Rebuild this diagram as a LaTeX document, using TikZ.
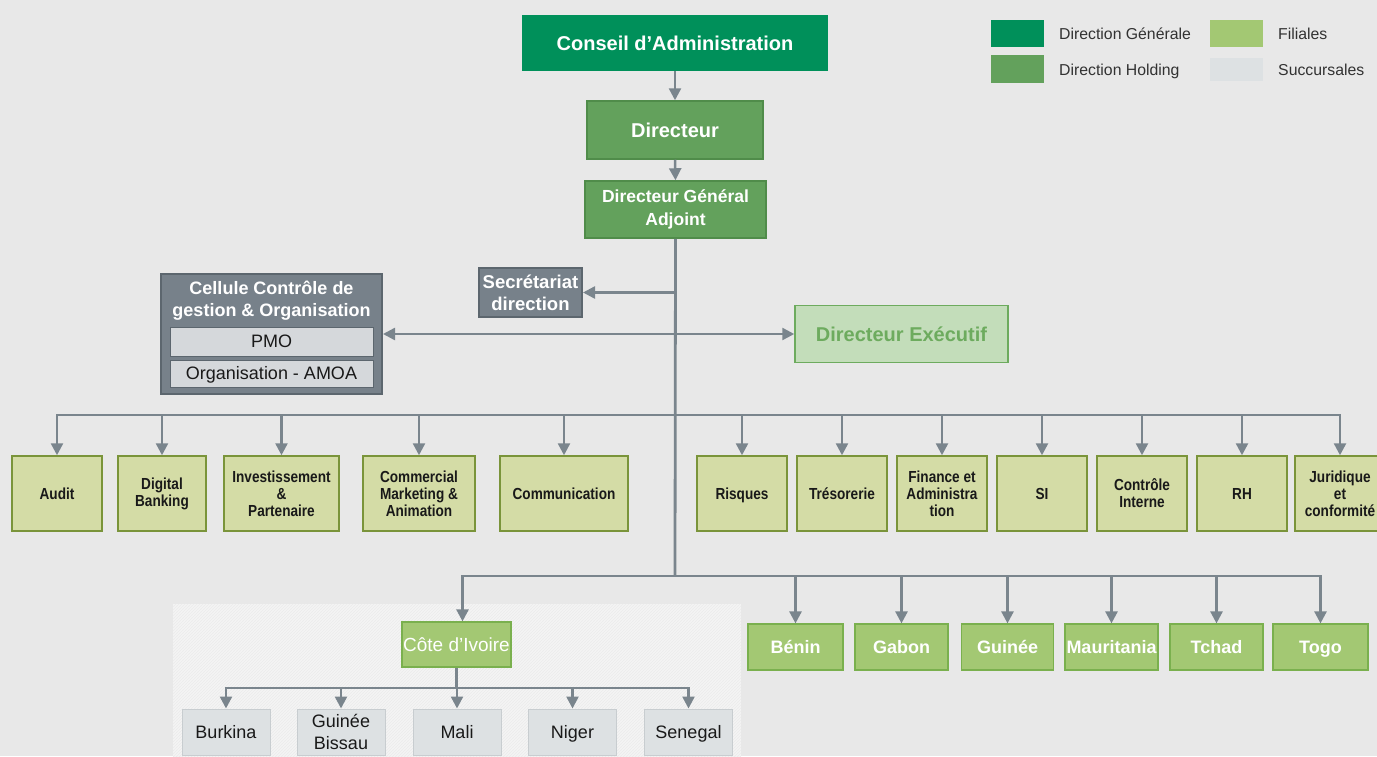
\documentclass[tikz,border=0pt]{standalone}
\usepackage{fontspec}
\setmainfont{Liberation Sans}
\newfontfamily\narrowfont{Liberation Sans}[FakeStretch=0.85]
\usetikzlibrary{arrows.meta,patterns}
\definecolor{bgcol}{RGB}{232,232,232}
\definecolor{dgcol}{RGB}{0,144,90}
\definecolor{dhcol}{RGB}{99,161,92}
\definecolor{dhdraw}{RGB}{80,140,74}
\definecolor{filfill}{RGB}{163,200,115}
\definecolor{fildraw}{RGB}{122,176,78}
\definecolor{succfill}{RGB}{221,225,227}
\definecolor{succdraw}{RGB}{200,205,208}
\definecolor{deptfill}{RGB}{212,220,166}
\definecolor{deptdraw}{RGB}{122,148,58}
\definecolor{grayfill}{RGB}{119,129,138}
\definecolor{graydraw}{RGB}{92,102,110}
\definecolor{innerfill}{RGB}{213,216,219}
\definecolor{defill}{RGB}{195,221,186}
\definecolor{dedraw}{RGB}{109,171,94}
\definecolor{conncol}{RGB}{122,133,141}
\definecolor{txtcol}{RGB}{25,25,25}
\definecolor{legtxt}{RGB}{50,50,50}
\definecolor{hatchfill}{RGB}{244,244,244}
\begin{document}
\begin{tikzpicture}[x=1pt,y=-1pt,
  base/.style={rectangle, inner sep=0pt, align=center, anchor=center},
  conn/.style={draw=conncol, line width=2.5pt},
  arr/.style={conn, -{Triangle[length=12pt,width=12pt]}},
  darr/.style={conn, {Triangle[length=12pt,width=12pt]}-{Triangle[length=12pt,width=12pt]}},
  one/.style={text height=#1, text depth=0pt},
  topbox/.style={base, fill=dgcol, text=white, font=\bfseries\fontsize{20}{24}\selectfont},
  holdbox/.style={base, fill=dhcol, draw=dhdraw, line width=1.5pt, text=white, font=\bfseries\fontsize{20}{23}\selectfont},
  graybox/.style={base, fill=grayfill, draw=graydraw, line width=2pt, text=white, font=\bfseries\fontsize{18.5}{22}\selectfont},
  innerbox/.style={base, fill=innerfill, draw=graydraw, line width=1pt, minimum width=203pt, text=txtcol, font=\fontsize{18}{20}\selectfont, one=12.9pt},
  debox/.style={base, fill=defill, draw=dedraw, line width=1.5pt, text=dedraw, font=\bfseries\fontsize{20}{22}\selectfont, one=14.3pt},
  dept/.style={base, fill=deptfill, draw=deptdraw, line width=1.5pt, minimum height=75pt, text=txtcol, font=\narrowfont\bfseries\fontsize{16}{17}\selectfont},
  fil/.style={base, fill=filfill, draw=fildraw, line width=1.2pt, minimum height=46pt, text=white, font=\bfseries\fontsize{18}{20}\selectfont, one=12.9pt},
  succ/.style={base, fill=succfill, draw=succdraw, line width=1pt, minimum width=88pt, minimum height=46pt, text=txtcol, font=\fontsize{18}{22}\selectfont},
  legbox/.style={base, minimum width=53pt, minimum height=27pt},
  legtext/.style={anchor=west, inner sep=0pt, text=legtxt, font=\fontsize{15.8}{18}\selectfont, one=11.3pt}
]
\useasboundingbox (0,0) rectangle (1377,756);
\clip (0,0) rectangle (1377,756);
\fill[bgcol] (0,0) rectangle (1377,756);

% hatched succursales area
\fill[hatchfill] (173,604) rectangle (741,760);
\fill[pattern=north east lines, pattern color=black!8] (173,604) rectangle (741,760);

% legend
\node[legbox, fill=dgcol] (lg1) at (1017.5,33.5) {};
\node[legtext] (lg1t) at (1059,33.5) {Direction Générale};
\node[legbox, fill=dhcol, minimum height=28pt] (lg2) at (1017.5,69) {};
\node[legtext] (lg2t) at (1059,69.5) {Direction Holding};
\node[legbox, fill=filfill] (lg3) at (1236.5,33.5) {};
\node[legtext] (lg3t) at (1278,33.5) {Filiales};
\node[legbox, fill=succfill, minimum height=23pt] (lg4) at (1236.5,69.5) {};
\node[legtext] (lg4t) at (1278,69.5) {Succursales};

% top chain
\node[topbox, minimum width=306pt, minimum height=56pt] (ca) at (675,43) {Conseil d’Administration};
\node[holdbox, minimum width=176pt, minimum height=58pt, one=14.3pt] (dir) at (675,130) {Directeur};
\node[holdbox, minimum width=181pt, minimum height=57pt, font=\bfseries\fontsize{17.5}{23}\selectfont] (dga) at (675.5,209.5) {Directeur Général\\Adjoint};

\draw[arr] (ca.south) -- (dir.north);
\draw[arr] (dir.south) -- (dga.north);

% side boxes
\node[graybox, minimum width=103pt, minimum height=49pt] (sec) at (530.5,292.5) {Secrétariat\\direction};
\node[graybox, minimum width=221pt, minimum height=120pt] (cell) at (271.5,334) {};
\node[base, text=white, font=\bfseries\fontsize{18}{22}\selectfont] (celltitle) at (271.5,301) {Cellule Contrôle de\\gestion \& Organisation};
\node[innerbox, minimum height=29pt] (pmo) at (271.5,341.5) {PMO};
\node[innerbox, minimum height=27pt] (amoa) at (271.5,373.5) {Organisation - AMOA};
\node[debox, minimum width=213pt, minimum height=57pt] (de) at (901.5,334) {Directeur Exécutif};

% trunk and junction points
\coordinate (jsec) at (675,292.5);
\coordinate (jdept) at (675,415);
\coordinate (jfil) at (675,576);
\draw[conn, line width=2.8pt] (dga.south) -- (jfil);
\draw[arr] (jsec) -- (sec.east);
\draw[darr] (cell.east) -- (de.west);

% departments
\node[dept, minimum width=90pt, one=11.4pt] (audit) at (57,493.5) {Audit};
\node[dept, minimum width=88pt] (digital) at (162,493.5) {Digital\\Banking};
\node[dept, minimum width=115pt] (invest) at (281.5,493.5) {Investissement\\\&\\Partenaire};
\node[dept, minimum width=112pt] (commercial) at (419,493.5) {Commercial\\Marketing \&\\Animation};
\node[dept, minimum width=128pt, one=11.4pt] (comm) at (564,493.5) {Communication};
\node[dept, minimum width=90pt, one=11.4pt] (risques) at (742,493.5) {Risques};
\node[dept, minimum width=90pt, one=11.4pt] (treso) at (842,493.5) {Trésorerie};
\node[dept, minimum width=90pt] (finance) at (942,493.5) {Finance et\\Administra\\tion};
\node[dept, minimum width=90pt, one=11.4pt] (si) at (1042,493.5) {SI};
\node[dept, minimum width=90pt] (ctrl) at (1142,493.5) {Contrôle\\Interne};
\node[dept, minimum width=90pt, one=11.4pt] (rh) at (1242,493.5) {RH};
\node[dept, minimum width=90pt] (jur) at (1340,493.5) {Juridique\\et\\conformité};

\foreach \n in {audit,digital,invest,commercial,comm,risques,treso,finance,si,ctrl,rh,jur}
  \draw[arr] (jdept) -| (\n.north);

% filiales
\node[fil, minimum width=109pt, minimum height=45pt, font=\fontsize{19}{20}\selectfont, one=13.6pt] (civ) at (456.5,644.5) {Côte d’Ivoire};
\node[fil, minimum width=95pt] (benin) at (795.5,647) {Bénin};
\node[fil, minimum width=93pt] (gabon) at (901.5,647) {Gabon};
\node[fil, minimum width=92pt] (guinee) at (1007.5,647) {Guinée};
\node[fil, minimum width=93pt] (mauri) at (1111.5,647) {Mauritania};
\node[fil, minimum width=93pt] (tchad) at (1216.5,647) {Tchad};
\node[fil, minimum width=95pt] (togo) at (1320.5,647) {Togo};

\draw[arr] (jfil) -| ([xshift=6pt]civ.north);
\foreach \n in {benin,gabon,guinee,mauri,tchad,togo}
  \draw[arr] (jfil) -| (\n.north);

% succursales
\node[succ, one=12.9pt] (burkina) at (226,732) {Burkina};
\node[succ] (gbissau) at (341,732) {Guinée\\Bissau};
\node[succ, one=12.9pt] (mali) at (457,732) {Mali};
\node[succ, one=12.9pt] (niger) at (572.5,732) {Niger};
\node[succ, one=12.9pt] (senegal) at (688.5,732) {Senegal};

\coordinate (jsucc) at (456.5,688);
\draw[conn] (civ.south) -- (jsucc);
\foreach \n in {burkina,gbissau,mali,niger,senegal}
  \draw[arr] (jsucc) -| (\n.north);
\end{tikzpicture}
\end{document}
